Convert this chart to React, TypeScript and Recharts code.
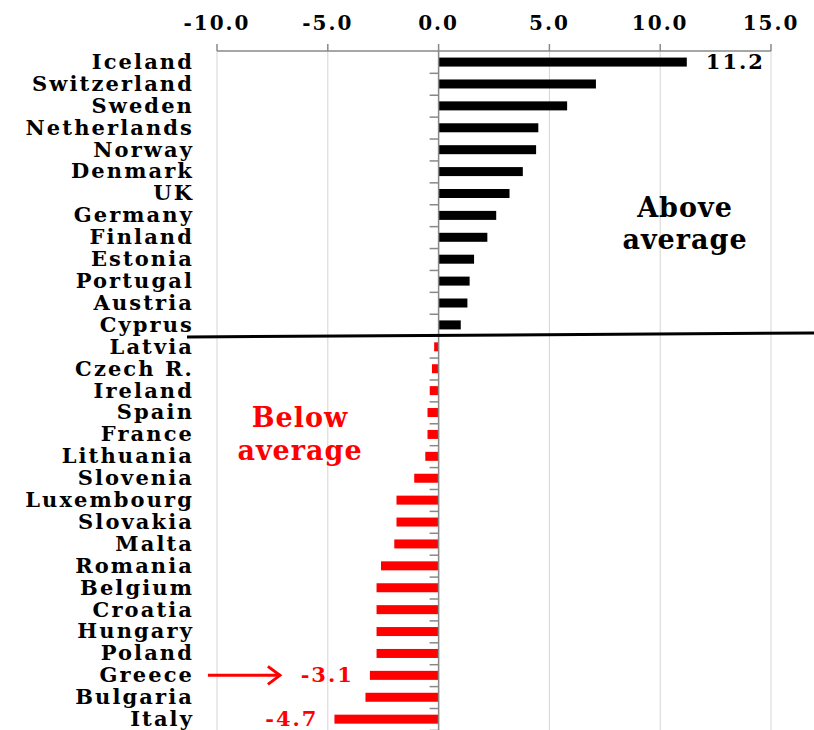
import React from "react";
import {
  BarChart,
  Bar,
  XAxis,
  YAxis,
  CartesianGrid,
  ReferenceLine,
  Cell,
  LabelList,
} from "recharts";

const countries = [
  "Iceland", "Switzerland", "Sweden", "Netherlands", "Norway", "Denmark", "UK",
  "Germany", "Finland", "Estonia", "Portugal", "Austria", "Cyprus", "Latvia",
  "Czech R.", "Ireland", "Spain", "France", "Lithuania", "Slovenia",
  "Luxembourg", "Slovakia", "Malta", "Romania", "Belgium", "Croatia",
  "Hungary", "Poland", "Greece", "Bulgaria", "Italy",
];

const values = [
  11.2, 7.1, 5.8, 4.5, 4.4, 3.8, 3.2, 2.6, 2.2, 1.6, 1.4, 1.3, 1.0, -0.2,
  -0.3, -0.4, -0.5, -0.5, -0.6, -1.1, -1.9, -1.9, -2.0, -2.6, -2.8, -2.8,
  -2.8, -2.8, -3.1, -3.3, -4.7,
];

const xTicks = [-10, -5, 0, 5, 10, 15];
const labelled = ["Iceland", "Greece", "Italy"];

const data = countries.map((name, i) => ({ name, value: values[i] }));

const FONT = "'DejaVu Serif', serif";
const GAP = 0.3; // barCategoryGap share on each side

const CountryTick = (props: any) => {
  const { x, y, payload } = props;
  return (
    <text
      x={x + 2}
      y={y}
      dy={7}
      textAnchor="end"
      fontFamily={FONT}
      fontWeight="bold"
      fontSize={21}
      letterSpacing={2.1}
      fill="#000"
    >
      {payload.value}
    </text>
  );
};

// bar plus the small category tick mark on the zero axis
const BarShape = (props: any) => {
  const { x, y, width, height, fill, payload } = props;
  const left = Math.min(x, x + width);
  const w = Math.abs(width);
  const zeroX = payload.value >= 0 ? left : left + w;
  const band = height / (1 - 2 * GAP);
  const tickY = y + height / 2 + band / 2;
  return (
    <g>
      <rect x={left} y={y} width={w} height={height} fill={fill} />
      <line x1={zeroX - 9} x2={zeroX} y1={tickY} y2={tickY} stroke="#888" strokeWidth={1.5} />
    </g>
  );
};

const ValueLabel = (props: any) => {
  const { x, y, width, height, value, index } = props;
  const name = countries[index];
  if (!labelled.includes(name)) return null;
  const cy = y + height / 2;
  const left = Math.min(x, x + width);
  const right = Math.max(x, x + width);
  const neg = value < 0;
  const common = {
    fontFamily: FONT,
    fontWeight: "bold" as const,
    fontSize: 21,
    letterSpacing: 2,
  };
  if (!neg) {
    return (
      <text x={right + 19} y={cy} dy={7} textAnchor="start" fill="#000" {...common}>
        {value.toFixed(1)}
      </text>
    );
  }
  return (
    <g>
      <text x={left - 16} y={cy} dy={7} textAnchor="end" fill="#ff0000" {...common}>
        {value.toFixed(1)}
      </text>
      {name === "Greece" && (
        <g stroke="#ff0000" strokeWidth={3} fill="none">
          <line x1={left - 162} x2={left - 90} y1={cy} y2={cy} />
          <polyline
            points={`${left - 102},${cy - 9} ${left - 90},${cy} ${left - 102},${cy + 9}`}
          />
        </g>
      )}
    </g>
  );
};

export default function App() {
  return (
    <div style={{ position: "absolute", left: 0, top: 0, width: 814, height: 730, background: "#fff" }}>
      <BarChart
        width={814}
        height={730}
        data={data}
        layout="vertical"
        margin={{ top: 0, right: 43, left: 0, bottom: 0 }}
        barCategoryGap={`${GAP * 100}%`}
      >
        <CartesianGrid horizontal={false} stroke="#d4d4d4" />
        <XAxis
          type="number"
          orientation="top"
          domain={[-10, 15]}
          ticks={xTicks}
          tickFormatter={(v: number) => v.toFixed(1)}
          height={51}
          tickSize={7}
          tickMargin={14}
          axisLine={{ stroke: "#888", strokeWidth: 1.5 }}
          tickLine={{ stroke: "#888", strokeWidth: 1.5 }}
          tick={{
            fill: "#000",
            fontFamily: FONT,
            fontWeight: "bold",
            fontSize: 20,
            letterSpacing: 2,
          }}
          allowDataOverflow
        />
        <YAxis
          type="category"
          dataKey="name"
          width={217}
          axisLine={false}
          tickLine={false}
          tickSize={0}
          tickMargin={25}
          interval={0}
          tick={<CountryTick />}
        />
        <ReferenceLine x={0} stroke="#888" strokeWidth={1.5} />
        <Bar dataKey="value" isAnimationActive={false} shape={<BarShape />}>
          {data.map((d) => (
            <Cell key={d.name} fill={d.value >= 0 ? "#000" : "#ff0000"} />
          ))}
          <LabelList dataKey="value" content={<ValueLabel />} />
        </Bar>
      </BarChart>
      <svg
        width={814}
        height={730}
        style={{ position: "absolute", left: 0, top: 0, pointerEvents: "none" }}
      >
        <line x1={187} y1={337} x2={814} y2={333} stroke="#000" strokeWidth={3} />
        <g fontFamily={FONT} fontWeight="bold" fontSize={27} letterSpacing={1} textAnchor="middle">
          <text x={685} y={217} fill="#000">Above</text>
          <text x={685} y={249} fill="#000">average</text>
          <text x={300} y={427} fill="#ff0000">Below</text>
          <text x={300} y={460} fill="#ff0000">average</text>
        </g>
      </svg>
    </div>
  );
}
